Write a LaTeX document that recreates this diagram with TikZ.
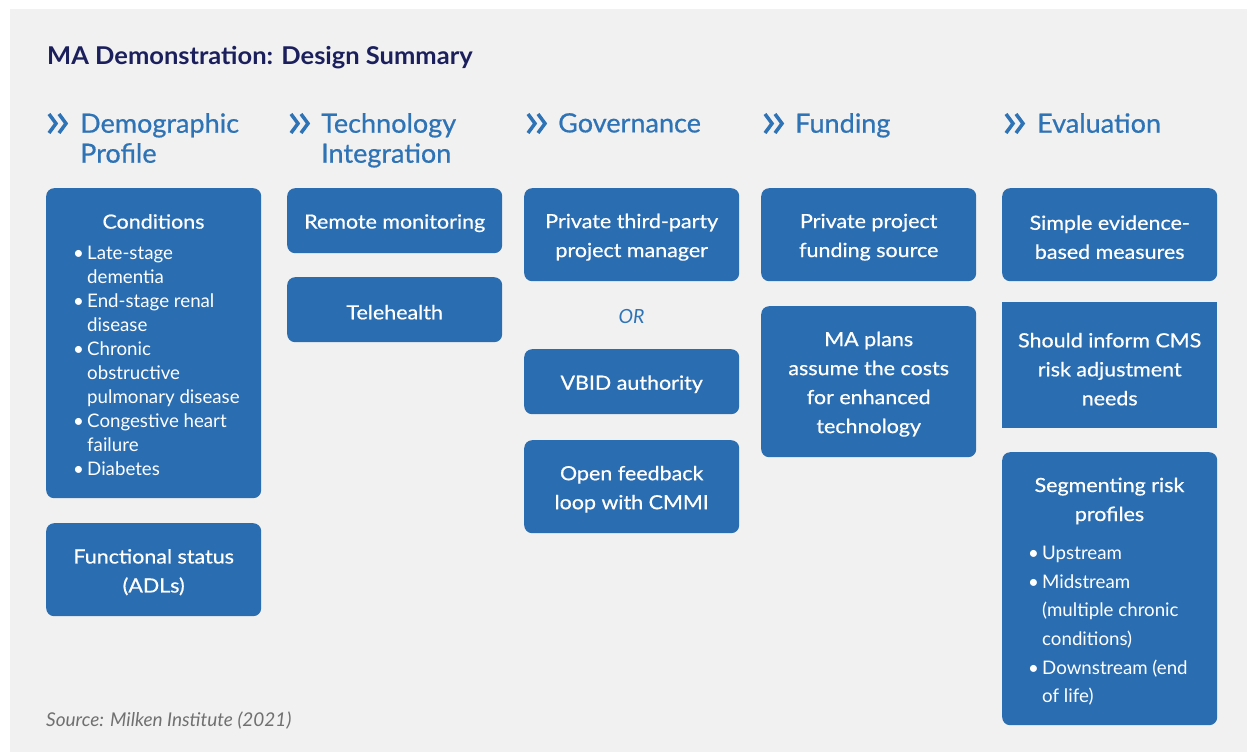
\documentclass[tikz,border=0pt]{standalone}
\usepackage{fontspec}
\setmainfont{Lato}
\newfontfamily\semib[FakeBold=0.6,FakeStretch=1.1]{Lato}
\newfontfamily\headfont[FakeBold=0.6,FakeStretch=1.02]{Lato}
\newfontfamily\titlefont[FakeStretch=1.04]{Lato Bold}
\definecolor{panelgray}{HTML}{F1F1F1}
\definecolor{boxblue}{HTML}{2A6DB1}
\definecolor{headblue}{HTML}{2E73B6}
\definecolor{titlenavy}{HTML}{1B1F5C}
\definecolor{srcgray}{HTML}{707070}
\newcommand\myitem{\makebox[15pt][l]{\hspace{1pt}•}}
\newcommand\mycont{\hspace*{15pt}}
\begin{document}
\begin{tikzpicture}[x=1pt,y=-1pt,
  box/.style={fill=boxblue, rounded corners=8pt, minimum width=215pt,
    inner sep=0pt, anchor=north west},
  sharpbox/.style={box, rounded corners=0pt},
  boxtext/.style={text=white, inner sep=0pt, align=center, yshift=-2.5pt,
    font=\semib\fontsize{19.5}{29}\selectfont},
  listtext/.style={text=white, inner sep=0pt, align=left, anchor=north west,
    font=\fontsize{18.7}{24}\selectfont},
  head/.style={text=headblue, inner sep=0pt, align=left, anchor=north west,
    font=\headfont\fontsize{26.5}{30}\selectfont},
  chev/.pic={\draw[headblue, line width=3.5pt, miter limit=10]
      (0,-9.5) -- (7,0) -- (0,9.5) (10,-9.5) -- (17,0) -- (10,9.5);}
]
\useasboundingbox (0,0) rectangle (1247,752);
\fill[white] (0,0) rectangle (1247,752);
\fill[panelgray] (10,9) rectangle (1247,752);

% title
\node[anchor=base west, inner sep=0pt, text=titlenavy,
  font=\titlefont\fontsize{24.5}{28}\selectfont] (title) at (47,65)
  {MA Demonstration: Design Summary};

% column headings
\pic at (49,123.5) {chev};
\node[head] (h1) at (80,113) {Demographic\\Profile};
\pic at (291,123.5) {chev};
\node[head] (h2) at (321,113) {Technology\\Integration};
\pic at (528,123.5) {chev};
\node[head] (h3) at (558,113) {Governance};
\pic at (765,123.5) {chev};
\node[head] (h4) at (795,113) {Funding};
\pic at (1006,123.5) {chev};
\node[head] (h5) at (1037,113) {Evaluation};

% demographic profile
\node[box, minimum height=310pt] (cond) at (46,188) {};
\node[boxtext, yshift=2.5pt] (condtitle) at (153.5,221.5) {Conditions};
\node[listtext] (condlist) at (72,246) {%
  \myitem Late-stage\\
  \mycont dementia\\
  \myitem End-stage renal\\
  \mycont disease\\
  \myitem Chronic\\
  \mycont obstructive\\
  \mycont pulmonary disease\\
  \myitem Congestive heart\\
  \mycont failure\\
  \myitem Diabetes};
\node[box, minimum height=93pt,
  label={[boxtext]center:{Functional status\\(ADLs)}}] (func) at (46,523) {};

% technology integration
\node[box, minimum height=65pt,
  label={[boxtext]center:{Remote monitoring}}] (remote) at (287,188) {};
\node[box, minimum height=65pt,
  label={[boxtext]center:{Telehealth}}] (tele) at (287,277) {};

% governance
\node[box, minimum height=93pt,
  label={[boxtext]center:{Private third-party\\project manager}}] (pm) at (524,188) {};
\node[text=headblue, inner sep=0pt, font=\itshape\fontsize{19.5}{24}\selectfont]
  (or) at (631.5,317) {OR};
\node[box, minimum height=65pt,
  label={[boxtext]center:{VBID authority}}] (vbid) at (524,349) {};
\node[box, minimum height=93pt,
  label={[boxtext]center:{Open feedback\\loop with CMMI}}] (cmmi) at (524,440) {};

% funding
\node[box, minimum height=93pt,
  label={[boxtext]center:{Private project\\funding source}}] (fund) at (761,188) {};
\node[box, minimum height=151pt,
  label={[boxtext]center:{MA plans\\assume the costs\\for enhanced\\technology}}]
  (plans) at (761,306) {};

% evaluation
\node[box, minimum height=93pt,
  label={[boxtext]center:{Simple evidence-\\based measures}}] (simple) at (1002,188) {};
\node[sharpbox, minimum height=126pt,
  label={[boxtext, yshift=-1.5pt]center:{Should inform CMS\\risk adjustment\\needs}}]
  (cms) at (1002,302) {};
\node[box, minimum height=273pt] (seg) at (1002,452) {};
\node[boxtext, yshift=2.5pt] (segtitle) at (1109.5,501) {Segmenting risk\\profiles};
\node[listtext, font=\fontsize{18.7}{28.6}\selectfont] (seglist) at (1027,546) {%
  \myitem Upstream\\
  \myitem Midstream\\
  \mycont (multiple chronic\\
  \mycont conditions)\\
  \myitem Downstream (end\\
  \mycont of life)};

% source line
\node[anchor=base west, inner sep=0pt, text=srcgray,
  font=\itshape\fontsize{19}{22}\selectfont] (source) at (46,726)
  {Source: Milken Institute (2021)};
\end{tikzpicture}
\end{document}
